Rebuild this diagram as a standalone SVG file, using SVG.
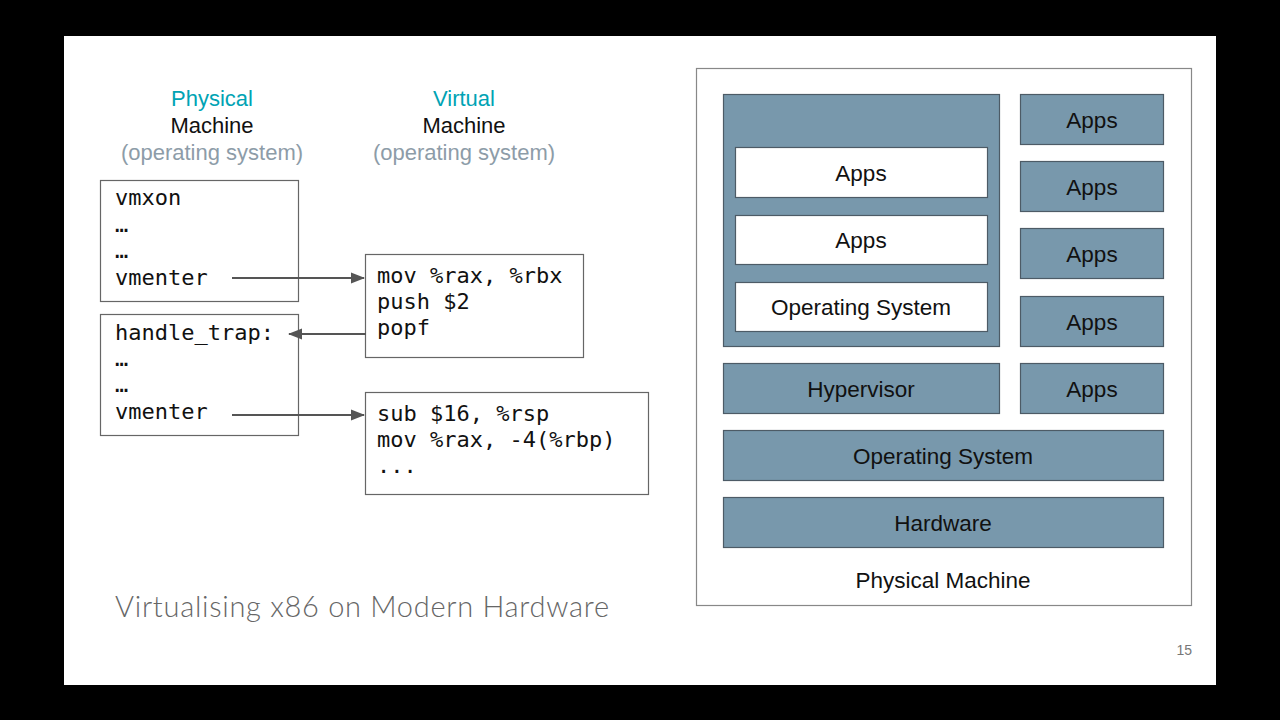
<svg xmlns="http://www.w3.org/2000/svg" width="1280" height="720" viewBox="0 0 1280 720">
<defs>
<marker id="ah" markerWidth="14" markerHeight="12" refX="13" refY="6" orient="auto" markerUnits="userSpaceOnUse">
<path d="M0,0.5 L14,6 L0,11.5 z" fill="#555"/>
</marker>
<style>
.code{font-family:"DejaVu Sans Mono",monospace;font-size:22px;fill:#111}
.cbox{fill:#fff;stroke:#666;stroke-width:1.2}
.hdr{font-family:"Liberation Sans",Arial,sans-serif;font-size:22px;text-anchor:middle}
.lbl{font-family:"Liberation Sans",Arial,sans-serif;font-size:22.5px;text-anchor:middle;fill:#111}
.blue{fill:#7898ac;stroke:#4d5b66;stroke-width:1.2}
.white{fill:#fff;stroke:#4d5b66;stroke-width:1.2}
.conn{stroke:#555;stroke-width:2;fill:none;marker-end:url(#ah)}
</style>
</defs>
<rect x="0" y="0" width="1280" height="720" fill="#000"/>
<rect x="64" y="36" width="1152" height="649" fill="#fff"/>

<g id="header-physical">
<text class="hdr" x="212" y="106" fill="#00a3b4">Physical</text>
<text class="hdr" x="212" y="133" fill="#111">Machine</text>
<text class="hdr" x="212" y="160" fill="#8d9ca8">(operating system)</text>
</g>
<g id="header-virtual">
<text class="hdr" x="464" y="106" fill="#00a3b4">Virtual</text>
<text class="hdr" x="464" y="133" fill="#111">Machine</text>
<text class="hdr" x="464" y="160" fill="#8d9ca8">(operating system)</text>
</g>

<g id="box-vmxon">
<rect class="cbox" x="100.5" y="180.5" width="198" height="121"/>
<text class="code" x="115" y="205">vmxon</text>
<text class="code" x="115" y="232">…</text>
<text class="code" x="115" y="258">…</text>
<text class="code" x="115" y="285">vmenter</text>
</g>
<g id="box-handle-trap">
<rect class="cbox" x="100.5" y="314.5" width="198" height="121"/>
<text class="code" x="115" y="340">handle_trap:</text>
<text class="code" x="115" y="366">…</text>
<text class="code" x="115" y="392">…</text>
<text class="code" x="115" y="419">vmenter</text>
</g>
<g id="box-guest1">
<rect class="cbox" x="365.5" y="254.5" width="218" height="103"/>
<text class="code" x="377" y="283">mov %rax, %rbx</text>
<text class="code" x="377" y="309">push $2</text>
<text class="code" x="377" y="335">popf</text>
</g>
<g id="box-guest2">
<rect class="cbox" x="365.5" y="392.5" width="283" height="102"/>
<text class="code" x="377" y="421">sub $16, %rsp</text>
<text class="code" x="377" y="447">mov %rax, -4(%rbp)</text>
<text class="code" x="377" y="473">...</text>
</g>

<g id="connectors">
<line class="conn" x1="232" y1="278" x2="364" y2="278"/>
<line class="conn" x1="366" y1="334" x2="289" y2="334"/>
<line class="conn" x1="232" y1="415" x2="364" y2="415"/>
</g>

<g id="physical-machine">
<rect x="696.5" y="68.5" width="495" height="537" fill="#fff" stroke="#888" stroke-width="1.2"/>
<text class="lbl" x="943" y="588">Physical Machine</text>
</g>
<g id="vm">
<rect class="blue" x="723.5" y="94.5" width="276" height="252"/>
</g>
<g id="vm-apps1"><rect class="white" x="735.5" y="147.5" width="252" height="50"/><text class="lbl" x="861" y="181">Apps</text></g>
<g id="vm-apps2"><rect class="white" x="735.5" y="215.5" width="252" height="49"/><text class="lbl" x="861" y="248">Apps</text></g>
<g id="vm-os"><rect class="white" x="735.5" y="282.5" width="252" height="49"/><text class="lbl" x="861" y="315">Operating System</text></g>
<g id="apps1"><rect class="blue" x="1020.5" y="94.5" width="143" height="50"/><text class="lbl" x="1092" y="128">Apps</text></g>
<g id="apps2"><rect class="blue" x="1020.5" y="161.5" width="143" height="50"/><text class="lbl" x="1092" y="195">Apps</text></g>
<g id="apps3"><rect class="blue" x="1020.5" y="228.5" width="143" height="50"/><text class="lbl" x="1092" y="262">Apps</text></g>
<g id="apps4"><rect class="blue" x="1020.5" y="296.5" width="143" height="50"/><text class="lbl" x="1092" y="330">Apps</text></g>
<g id="apps5"><rect class="blue" x="1020.5" y="363.5" width="143" height="50"/><text class="lbl" x="1092" y="397">Apps</text></g>
<g id="hypervisor"><rect class="blue" x="723.5" y="363.5" width="276" height="50"/><text class="lbl" x="861" y="397">Hypervisor</text></g>
<g id="host-os"><rect class="blue" x="723.5" y="430.5" width="440" height="50"/><text class="lbl" x="943" y="464">Operating System</text></g>
<g id="hardware"><rect class="blue" x="723.5" y="497.5" width="440" height="50"/><text class="lbl" x="943" y="531">Hardware</text></g>

<text x="115" y="617" font-family="Lato, 'Open Sans', sans-serif" font-weight="300" font-size="29" fill="#666" textLength="494" lengthAdjust="spacing">Virtualising x86 on Modern Hardware</text>
<text x="1192" y="655" font-family="'Liberation Sans', Arial, sans-serif" font-size="14" fill="#777" text-anchor="end">15</text>
</svg>
